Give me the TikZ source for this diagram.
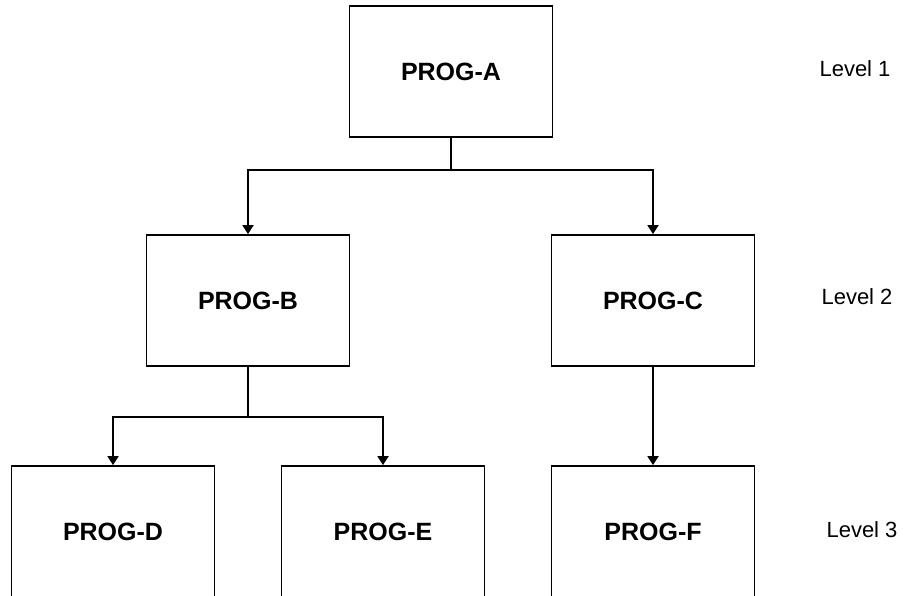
\documentclass[tikz,border=0pt]{standalone}
\usepackage{fontspec}
\setmainfont{Liberation Sans}
\usepackage{tikz}
\usetikzlibrary{positioning, arrows.meta}

\begin{document}
\begin{tikzpicture}[x=1pt, y=-1pt,
    prog/.style={rectangle, draw, line width=1.8pt, minimum width=203pt, minimum height=131pt,
        inner sep=0pt, font=\fontsize{25}{30}\selectfont\bfseries},
    level/.style={font=\fontsize{22}{26}\selectfont},
    link/.style={line width=1.8pt, -{Triangle[width=11pt,length=9pt]}}]
    \clip (0,0) rectangle (904,596);

    % Level 1
    \node[prog] (A) at (451,71.5) {PROG-A};

    % Level 2
    \node[prog] (B) at (248,300.5) {PROG-B};
    \node[prog] (C) at (653,300.5) {PROG-C};

    % Level 3
    \node[prog] (D) at (113,531.5) {PROG-D};
    \node[prog] (E) at (383,531.5) {PROG-E};
    \node[prog] (F) at (653,531.5) {PROG-F};

    % Level labels
    \node[level] (L1) at (855,69) {Level 1};
    \node[level] (L2) at (857,297) {Level 2};
    \node[level] (L3) at (862,530) {Level 3};

    % Arrows
    \draw[link] (A.south) -- ++(0,32) -| (B.north);
    \draw[link] (A.south) -- ++(0,32) -| (C.north);
    \draw[link] (B.south) -- ++(0,50) -| (D.north);
    \draw[link] (B.south) -- ++(0,50) -| (E.north);
    \draw[link] (C.south) -- (F.north);
\end{tikzpicture}
\end{document}
